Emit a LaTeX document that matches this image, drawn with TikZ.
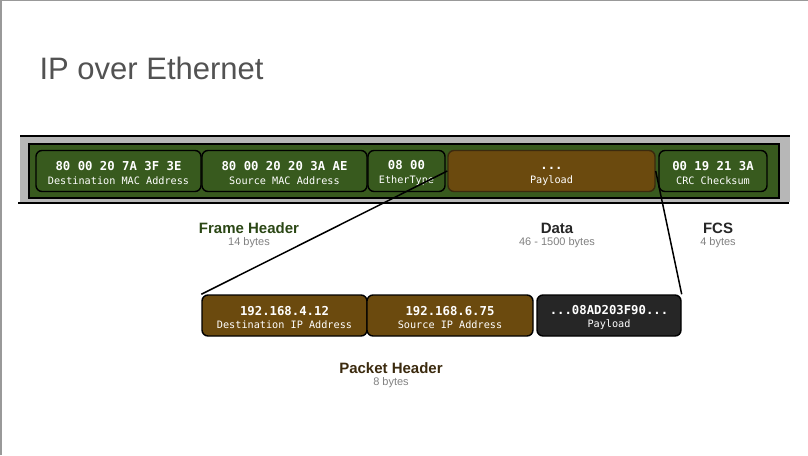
\documentclass[tikz,border=0pt]{standalone}
\usepackage{fontspec}
\setmainfont{Liberation Sans}
\setmonofont{DejaVu Sans Mono}
\usepackage{tikz}
\definecolor{framegreen}{HTML}{385A1E}
\definecolor{databrown}{HTML}{6B4A0E}
\definecolor{bandgray}{HTML}{B7B7B7}
\definecolor{labelgreen}{HTML}{2B4715}
\definecolor{labelbrown}{HTML}{3B2A0E}
\newcommand{\fieldtext}[2]{{\bfseries\fontsize{12.3}{14}\selectfont\rule{0pt}{13pt}#1}\\[1.5pt]{\fontsize{10.2}{12}\selectfont #2}}

\tikzset{
  field/.style={draw=black, line width=1.4pt, rounded corners=6pt, fill=framegreen,
    text=white, minimum height=41pt, inner sep=0pt, align=center, font=\ttfamily},
  datafield/.style={field, fill=databrown, draw=labelbrown},
  ipfield/.style={field, fill=databrown},
  blackfield/.style={field, fill=black!85},
  partname/.style={font=\bfseries\fontsize{15}{17}\selectfont},
  partsize/.style={font=\fontsize{11}{13}\selectfont, text=black!50}
}

\begin{document}
\begin{tikzpicture}[x=1pt,y=-1pt]
\useasboundingbox (0,0) rectangle (808,455);
\draw[black!40, line width=1.2pt] (1,455) -- (1,0.6) -- (808,0.6);
\node[anchor=base west, text=black!68, font=\fontsize{31}{36}\selectfont] (title) at (36,79) {IP over Ethernet};

% ethernet frame
\fill[bandgray] (20,137) rectangle (790,202);
\draw[line width=1.4pt] (20,136) -- (790,136);
\draw[line width=1.4pt] (18,203) -- (789,203);
\draw[line width=1.4pt, fill=framegreen] (29,144) rectangle (779,198);

\node[field, minimum width=165pt] (dmac) at (118.5,171) {\fieldtext{80 00 20 7A 3F 3E}{Destination MAC Address}};
\node[field, minimum width=165pt] (smac) at (284.5,171) {\fieldtext{80 00 20 20 3A AE}{Source MAC Address}};
\node[field, minimum width=77pt] (etype) at (406.5,171) {\fieldtext{08 00}{EtherType}};
\node[datafield, minimum width=207pt] (epay) at (551.5,171) {\fieldtext{...}{Payload}};
\node[field, minimum width=108pt] (crc) at (713,171) {\fieldtext{00 19 21 3A}{CRC Checksum}};

\node[partname, text=labelgreen] (fhead) at (249,228) {Frame Header};
\node[partsize] (fheadsize) at (249,243) {14 bytes};
\node[partname, text=black!85] (data) at (557,228) {Data};
\node[partsize] (datasize) at (557,243) {46 - 1500 bytes};
\node[partname, text=black!85] (fcs) at (718,228) {FCS};
\node[partsize] (fcssize) at (718,243) {4 bytes};

% ip packet
\node[ipfield, minimum width=165pt] (dip) at (284.5,315.5) {\fieldtext{192.168.4.12}{Destination IP Address}};
\node[ipfield, minimum width=166pt] (sip) at (450,315.5) {\fieldtext{192.168.6.75}{Source IP Address}};
\node[blackfield, minimum width=144pt] (ipay) at (609,315.5) {\fieldtext{...08AD203F90...}{Payload}};

\node[partname, text=labelbrown] (phead) at (391,368) {Packet Header};
\node[partsize] (pheadsize) at (391,383) {8 bytes};

\draw[line width=1.5pt] (dip.north west) -- (epay.west);
\draw[line width=1.5pt] (epay.east) -- (ipay.north east);
\end{tikzpicture}
\end{document}
